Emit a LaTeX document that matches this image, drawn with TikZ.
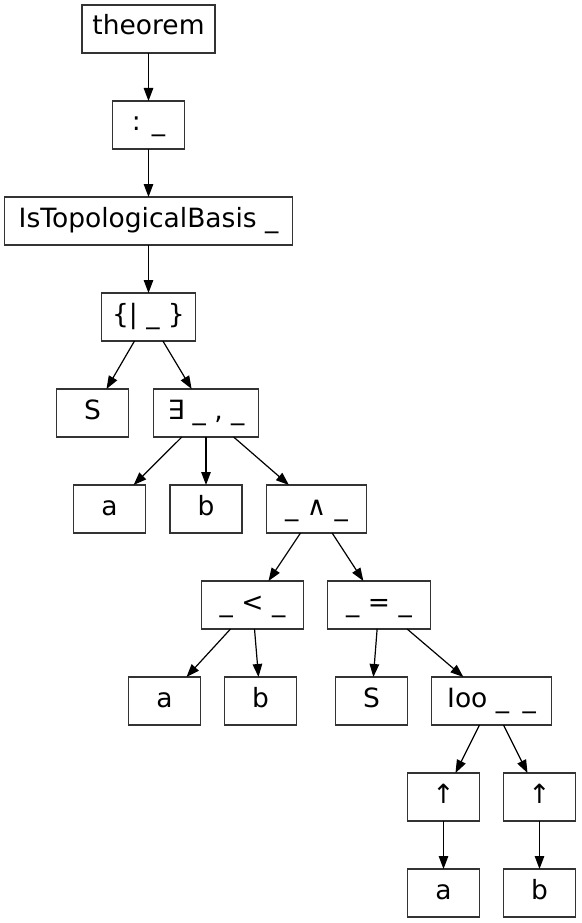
\documentclass[tikz,border=0pt]{standalone}
\usepackage{fontspec}
\setmainfont{DejaVu Sans}
\usepackage{tikz}
\usetikzlibrary{arrows.meta}
\usetikzlibrary{positioning}

\begin{document}
\begin{tikzpicture}[x=1pt, y=1pt, >={Triangle[length=13pt, width=9.5pt]}, node distance=48pt and 48pt]
		\tikzset{
			box/.style={draw=black!80, line width=1.2pt, outer sep=0pt, minimum width=#1, minimum height=48pt, inner xsep=4pt, inner ysep=0pt, text height=18pt, text depth=6pt, font=\fontsize{26.5}{30}\selectfont},
			box/.default=72pt,
			arr/.style={->, line width=1.2pt},
		}
		\useasboundingbox (0,0) rectangle (581,-923);
		\node[box=133pt] (T) at (148.5,-29) {theorem};
		\node[box, below=of T] (C) {: \_};
		\node[box=288pt, below=of C] (ITB) {IsTopologicalBasis \_};
		\node[box=94pt, below=of ITB] (Set) {\{| \_ \}};
		\node[box, below=of Set, xshift=-56pt] (S) {S};
		\node[box=105pt, below=of Set, xshift=57.5pt] (E) {∃ \_ , \_};
		\node[box, below=of E, xshift=-96.5pt] (A) {a};
		\node[box, below=of E] (Bv) {b};
		\node[box=100pt, below=of E, xshift=110.5pt] (And) {\_ ∧ \_};
		\node[box=102pt, below=of And, xshift=-64pt] (Lt) {\_ < \_};
		\node[box=103pt, below=of And, xshift=62.5pt] (Eq) {\_ = \_};
		\node[box, below=of Lt, xshift=-88pt] (A2) {a};
		\node[box, below=of Lt, xshift=8pt] (B2) {b};
		\node[box, below=of Eq, xshift=-7.5pt] (S2) {S};
		\node[box=120pt, below=of Eq, xshift=112.5pt] (Ioo) {Ioo \_\hspace{5pt} \_};
		\node[box, below=of Ioo, xshift=-48pt] (U1) {↑};
		\node[box, below=of Ioo, xshift=48pt] (U2) {↑};
		\node[box, below=of U1] (A3) {a};
		\node[box, below=of U2] (B3) {b};
		
		\draw[arr] (T) -- (C);
		\draw[arr] (C) -- (ITB);
		\draw[arr] (ITB) -- (Set);
		\draw[arr] (Set) -- (S);
		\draw[arr] (Set) -- (E);
		\draw[arr] (E) -- (A);
		\draw[arr] (E) -- (Bv);
		\draw[arr] (E) -- (And);
		\draw[arr] (And) -- (Lt);
		\draw[arr] (And) -- (Eq);
		\draw[arr] (Lt) -- (A2);
		\draw[arr] (Lt) -- (B2);
		\draw[arr] (Eq) -- (S2);
		\draw[arr] (Eq) -- (Ioo);
		\draw[arr] (Ioo) -- (U1);
		\draw[arr] (Ioo) -- (U2);
		\draw[arr] (U1) -- (A3);
		\draw[arr] (U2) -- (B3);
	\end{tikzpicture}
\end{document}
